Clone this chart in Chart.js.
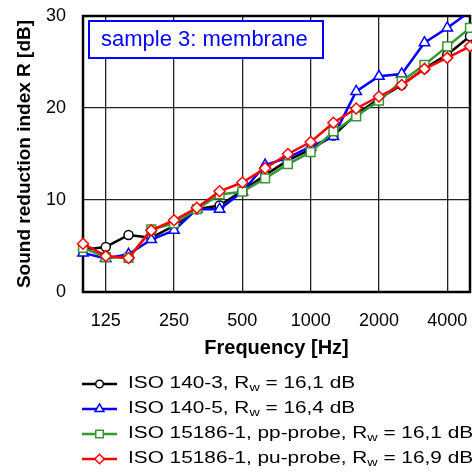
<!DOCTYPE html>
<html>
<head>
<meta charset="utf-8">
<script src="https://cdn.jsdelivr.net/npm/chart.js"></script>
<style>
  body { margin: 0; background: #fff; }
  #wrap { width: 472px; height: 475px; }
</style>
</head>
<body>
<div id="wrap"><canvas id="chart" width="472" height="475"></canvas></div>
<script>
'use strict'

// third-octave bands, 100 Hz .. 5000 Hz
var freqs = ['100', '125', '160', '200', '250', '315', '400', '500', '630', '800',
	'1000', '1250', '1600', '2000', '2500', '3150', '4000', '5000'];
var octaveLabels = ['125', '250', '500', '1000', '2000', '4000'];

// sound reduction index R [dB]
var iso140_3 = [4.6, 4.9, 6.2, 5.9, 7.2, 9.0, 9.4, 11.0, 12.7, 14.3, 15.5, 17.0, 19.3, 21.0, 22.5, 24.3, 25.8, 27.8];
var iso140_5 = [4.25, 3.65, 4.1, 5.7, 6.7, 9.0, 9.0, 10.9, 13.8, 14.6, 15.8, 16.9, 21.8, 23.45, 23.7, 27.1, 28.7, 30.5];
var ppProbe = [4.8, 3.8, 3.7, 6.8, 7.45, 9.0, 10.6, 10.9, 12.35, 13.9, 15.2, 17.45, 19.1, 20.8, 22.9, 24.7, 26.7, 28.7];
var puProbe = [5.25, 3.9, 3.7, 6.7, 7.8, 9.15, 10.95, 11.9, 13.45, 15.0, 16.3, 18.4, 19.95, 21.25, 22.5, 24.25, 25.45, 26.7];

var seriesNames = ['ISO 140-3', 'ISO 140-5', 'ISO 15186-1, pp-probe', 'ISO 15186-1, pu-probe'];
var rwValues = ['16,1', '16,4', '16,1', '16,9'];
var sampleName = 'sample 3: membrane';

var FONT = '"Liberation Sans", Arial, sans-serif';
Chart.defaults.color = '#000';
Chart.defaults.font.family = FONT;

function series(i, data, color, style, radius, order) {
	return {
		label: seriesNames[i] + ', Rw = ' + rwValues[i] + ' dB',
		data: data,
		borderColor: color,
		borderWidth: 2.5,
		tension: 0,
		fill: false,
		pointStyle: style,
		pointRadius: radius,
		pointBorderColor: color,
		pointBackgroundColor: '#fff',
		pointBorderWidth: 1.5,
		order: order
	};
}

//------------- stretch plot area to the right edge ------------- //
var areaPlugin = {
	id: 'areaFix',
	afterLayout: function(chart) {
		var a = chart.chartArea, x = chart.scales.x;
		a.right = 470;
		a.width = a.right - a.left;
		x.right = 470;
		x.width = x.right - x.left;
		x.configure();
	}
};

//------------- frame + sample box ------------- //
var framePlugin = {
	id: 'frame',
	beforeDatasetsDraw: function(chart) {
		var ctx = chart.ctx, a = chart.chartArea;
		ctx.save();
		ctx.strokeStyle = '#000';
		ctx.lineWidth = 2.5;
		ctx.strokeRect(a.left, a.top, a.right - a.left, a.bottom - a.top);

		// sample label box
		ctx.fillStyle = '#fff';
		ctx.fillRect(89, 21, 234, 37);
		ctx.strokeStyle = '#0000ff';
		ctx.lineWidth = 2;
		ctx.strokeRect(89, 21, 234, 37);
		ctx.fillStyle = '#0000ff';
		ctx.font = '22px ' + FONT;
		ctx.textBaseline = 'middle';
		ctx.fillText(sampleName, 101, 40);
		ctx.restore();
	}
};

//------------- legend with subscript ------------- //
var legendPlugin = {
	id: 'subLegend',
	afterDraw: function(chart) {
		var ctx = chart.ctx;
		var sx = 1.3;
		chart.data.datasets.forEach(function(ds, i) {
			var y = 384 + i * 25;
			ctx.save();
			ctx.strokeStyle = ds.borderColor;
			ctx.lineWidth = 2.5;
			ctx.beginPath();
			ctx.moveTo(82, y);
			ctx.lineTo(117, y);
			ctx.stroke();
			ctx.fillStyle = '#fff';
			ctx.lineWidth = 1.5;
			Chart.helpers.drawPoint(ctx, {
				pointStyle: ds.pointStyle,
				radius: ds.pointRadius * 0.85,
				rotation: 0,
				borderWidth: 1.5
			}, 99.5, y);
			ctx.restore();

			ctx.save();
			ctx.translate(128, y);
			ctx.scale(sx, 1);
			ctx.fillStyle = '#000';
			ctx.textBaseline = 'middle';
			ctx.font = '16px ' + FONT;
			var t1 = seriesNames[i] + ', R';
			ctx.fillText(t1, 0, 0);
			var x = ctx.measureText(t1).width;
			ctx.font = '11px ' + FONT;
			ctx.fillText('w', x, 4);
			x += ctx.measureText('w').width;
			ctx.font = '16px ' + FONT;
			ctx.fillText(' = ' + rwValues[i] + ' dB', x, 0);
			ctx.restore();
		});
	}
};

window.onload = function() {
	var ctx = document.getElementById('chart').getContext('2d');

	var myChart = new Chart(ctx, {
		type: 'line',
		data: {
			labels: freqs,
			datasets: [
				series(0, iso140_3, '#000000', 'circle', 4.5, 3),
				series(1, iso140_5, '#0000ff', 'triangle', 6, 2),
				series(2, ppProbe, '#339933', 'rect', 6.2, 1),
				series(3, puProbe, '#ff0000', 'rectRot', 5.5, 0)
			]
		},
		options: {
			responsive: false,
			animation: false,
			layout: { padding: { top: 16, right: 2, bottom: 115, left: 0 } },
			plugins: {
				legend: { display: false },
				tooltip: { enabled: false }
			},
			scales: {
				x: {
					type: 'category',
					offset: false,
					border: { display: false },
					grid: {
						drawTicks: false,
						lineWidth: 1.3,
						color: function(c) {
							return octaveLabels.indexOf(freqs[c.index]) >= 0 ? '#222' : 'rgba(0,0,0,0)';
						}
					},
					ticks: {
						autoSkip: false,
						maxRotation: 0,
						padding: 18,
						font: { size: 18 },
						callback: function(v, idx) {
							return octaveLabels.indexOf(freqs[idx]) >= 0 ? freqs[idx] : '';
						}
					},
					title: {
						display: true,
						text: 'Frequency [Hz]',
						font: { size: 20, weight: 'bold' },
						padding: { top: 0, bottom: 0 }
					},
					afterFit: function(scale) {
						scale.height = 68;
						scale.paddingLeft = 0;
						scale.paddingRight = 0;
					}
				},
				y: {
					min: 0,
					max: 30,
					border: { display: false },
					grid: { drawTicks: false, lineWidth: 1.3, color: '#222' },
					ticks: { stepSize: 10, padding: 17, font: { size: 18 } },
					title: {
						display: true,
						text: 'Sound reduction index R [dB]',
						font: { size: 19, weight: 'bold' },
						padding: { top: 13, bottom: 0 }
					},
					afterFit: function(scale) {
						scale.width = 83;
						scale.paddingTop = 0;
						scale.paddingBottom = 0;
					}
				}
			}
		},
		plugins: [areaPlugin, framePlugin, legendPlugin]
	});
};
</script>
</body>
</html>
